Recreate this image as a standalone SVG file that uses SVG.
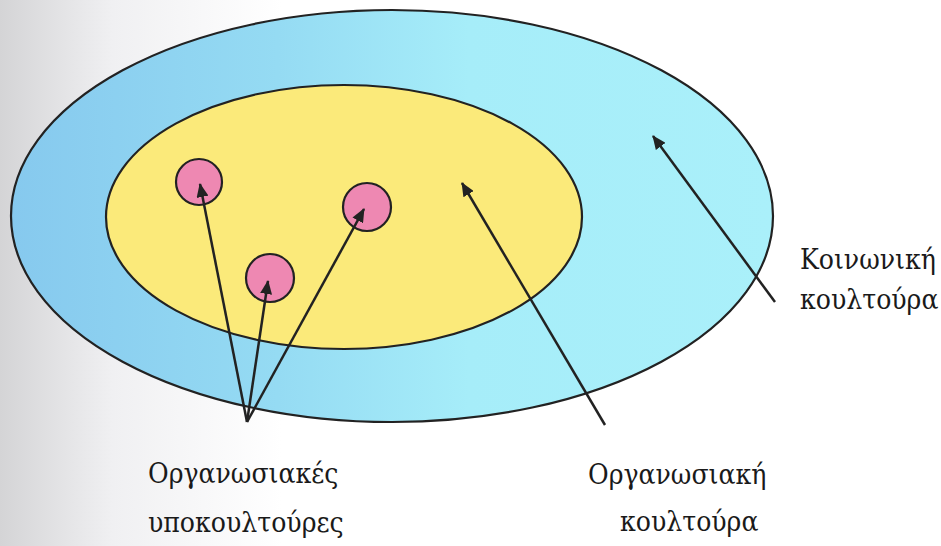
<svg xmlns="http://www.w3.org/2000/svg" width="941" height="546" viewBox="0 0 941 546">
<defs>
<linearGradient id="bg" x1="0" y1="0" x2="1" y2="0">
<stop offset="0" stop-color="#d4d4d6"/>
<stop offset="0.12" stop-color="#f0f0f2"/>
<stop offset="0.3" stop-color="#ffffff"/>
<stop offset="1" stop-color="#ffffff"/>
</linearGradient>
<linearGradient id="blue" x1="0" y1="0" x2="1" y2="0">
<stop offset="0" stop-color="#86c9ee"/>
<stop offset="0.35" stop-color="#95dbf3"/>
<stop offset="0.6" stop-color="#a6edf9"/>
<stop offset="1" stop-color="#aaf0fa"/>
</linearGradient>
<marker id="ah" markerWidth="14" markerHeight="12" refX="13" refY="6" orient="auto" markerUnits="userSpaceOnUse">
<path d="M0,0 L14,6 L0,12 Z" fill="#222"/>
</marker>
<style>
.outer{fill:url(#blue);stroke:#222;stroke-width:2.2}
.inner{fill:#fbea7a;stroke:#222;stroke-width:2.2}
.arr{stroke:#222;stroke-width:2.5;fill:none;marker-end:url(#ah)}
.lbl{font-family:'DejaVu Serif Condensed','DejaVu Serif',serif;font-stretch:condensed;font-size:28px;fill:#1a1a1a}
.pink{fill:#ee88b2;stroke:#222;stroke-width:2.2}
</style>
</defs>
<rect x="0" y="0" width="941" height="546" fill="url(#bg)"/>
<g id="social-culture">
<ellipse class="outer" cx="392" cy="216" rx="381" ry="206"/>
</g>
<g id="org-culture">
<ellipse class="inner" cx="344" cy="217" rx="238" ry="132"/>
</g>
<g id="sub1"><circle cx="199" cy="182" r="23" class="pink"/></g>
<g id="sub2"><circle cx="270" cy="278" r="24" class="pink"/></g>
<g id="sub3"><circle cx="367" cy="207" r="24" class="pink"/></g>
<g id="connectors">
<line class="arr" x1="247" y1="422" x2="200" y2="184"/>
<line class="arr" x1="247" y1="422" x2="268" y2="281"/>
<line class="arr" x1="247" y1="422" x2="364" y2="209"/>
<line class="arr" x1="605" y1="425" x2="462" y2="183"/>
<line class="arr" x1="775" y1="302" x2="653" y2="136"/>
</g>
<g id="labels">
<text class="lbl" x="800" y="269">Κοινωνική</text>
<text class="lbl" x="800" y="309">κουλτούρα</text>
<text class="lbl" x="148" y="483">Οργανωσιακές</text>
<text class="lbl" x="148" y="532">υποκουλτούρες</text>
<text class="lbl" x="588" y="484">Οργανωσιακή</text>
<text class="lbl" x="620" y="531">κουλτούρα</text>
</g>
</svg>
